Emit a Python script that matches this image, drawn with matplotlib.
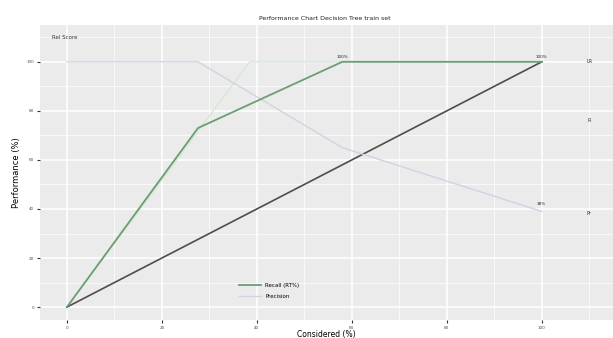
import numpy as np
import matplotlib.pyplot as plt

# data
considered = [0, 27.6, 58, 100]
recall = [0, 73, 100, 100]
precision = [100, 100, 65, 39]
random_x = [0, 100]
random_y = [0, 100]
perfect_x = [0, 38.5, 100]
perfect_y = [0, 100, 100]

point_labels = [(58, 102, "100%"), (100, 102, "100%"), (100, 42, "38%")]
side_labels = [(110, 100, "LR"), (110, 76, "R"), (110, 38, "Pr")]
ticks = [0, 20, 40, 60, 80, 100]

fig = plt.figure(figsize=(6.13, 3.38), dpi=100)
ax = fig.add_axes([0.065, 0.053, 0.935, 0.873])
ax.set_facecolor("#EBEBEB")
for s in ax.spines.values():
    s.set_visible(False)

ax.set_xlim(-5.7, 115)
ax.set_ylim(-5.3, 115)
ax.set_xticks(ticks)
ax.set_yticks(ticks)
ax.set_xticks([10, 30, 50, 70, 90, 110], minor=True)
ax.set_yticks([10, 30, 50, 70, 90, 110], minor=True)
ax.grid(True, which="major", color="white", linewidth=1.1)
ax.grid(True, which="minor", color="white", linewidth=0.5)
ax.set_axisbelow(True)
ax.tick_params(which="both", length=2, color="#333333", labelsize=3, labelcolor="#4d4d4d", pad=2)
ax.tick_params(which="minor", length=0)

ax.plot(perfect_x, perfect_y, color="#d3e8d3", linewidth=1.0)
ax.plot(random_x, random_y, color="#4d4d4d", linewidth=1.2)
ax.plot(considered, precision, color="#d2d2e2", linewidth=1.0, label="Precision")
ax.plot(considered, recall, color="#6b9e72", linewidth=1.3, label="Recall (RT%)")

for x, y, t in point_labels:
    ax.text(x, y, t, fontsize=3, ha="center", va="center", color="#222222")
for x, y, t in side_labels:
    ax.text(x, y, t, fontsize=3.5, ha="center", va="center", color="#333333")

ax.text(0.021, 0.956, "Rel Score", transform=ax.transAxes, fontsize=4, color="#333333",
        va="center")

handles, labels = ax.get_legend_handles_labels()
ax.legend(handles[::-1], labels[::-1], loc="center", bbox_to_anchor=(0.40, 0.098),
          frameon=False, fontsize=4, handlelength=4, labelspacing=1.0)

ax.set_xlabel("Considered (%)", fontsize=5.5, labelpad=0)
ax.set_ylabel("Performance (%)", fontsize=6, labelpad=4)
fig.text(0.53, 0.945, "Performance Chart Decision Tree train set", fontsize=4.5,
         ha="center", va="center", color="#222222")

fig.savefig("out.png", dpi=100)
